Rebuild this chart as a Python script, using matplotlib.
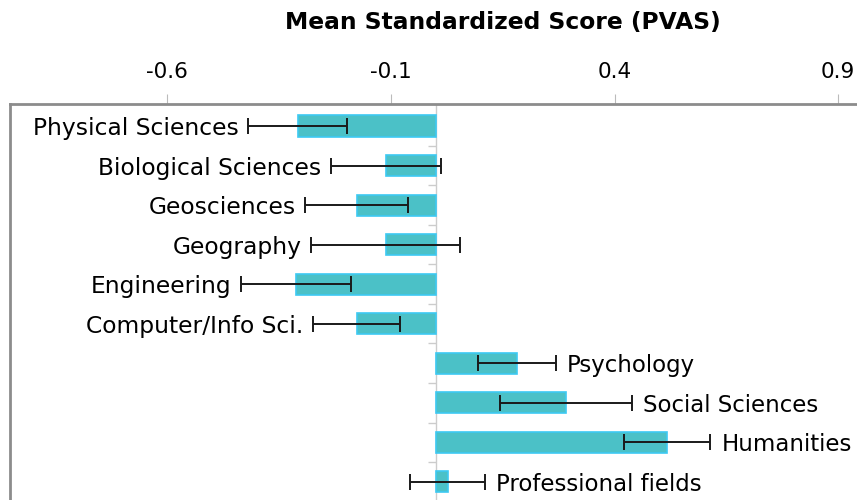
import matplotlib.pyplot as plt
import numpy as np

plt.rcParams['font.family'] = ['DejaVu Sans']

# fields, top to bottom
fields = ['Physical Sciences', 'Biological Sciences', 'Geosciences', 'Geography',
          'Engineering', 'Computer/Info Sci.', 'Psychology', 'Social Sciences',
          'Humanities', 'Professional fields']
means = [-0.309, -0.112, -0.177, -0.112, -0.313, -0.177, 0.181, 0.291, 0.517, 0.027]
errors = [0.110, 0.123, 0.115, 0.166, 0.123, 0.098, 0.087, 0.147, 0.097, 0.084]
xticks = [-0.6, -0.1, 0.4, 0.9]

fig = plt.figure(figsize=(8.57, 5), dpi=100)
ax = fig.add_axes([10 / 857, 0, 1 - 10 / 857, 1 - 104 / 500])

y = np.arange(len(fields))
ax.barh(y, means, height=0.54, color='#4bc1c7', edgecolor='#3dc9f2', linewidth=1.2, zorder=2)
ax.errorbar(means, y, xerr=errors, fmt='none', ecolor='#1a1a1a', elinewidth=1.4,
            capsize=5.5, capthick=1.4, zorder=3)

# labels next to the error bars
for yi, m, e, name in zip(y, means, errors, fields):
    if m < 0:
        ax.annotate(name, (m - e, yi + 0.06), xytext=(-7, 0), textcoords='offset points',
                    ha='right', va='center', fontsize=16.8)
    else:
        ax.annotate(name, (m + e, yi + 0.06), xytext=(8, 0), textcoords='offset points',
                    ha='left', va='center', fontsize=16.5)

# zero line with category ticks
ax.axvline(0, color='#cccccc', linewidth=1, zorder=1)
ax.hlines(y[:-1] + 0.5, -0.018, 0, color='#cccccc', linewidth=1, zorder=1)

ax.set_xlim(-0.952, 0.942)
ax.set_ylim(9.46, -0.56)
ax.xaxis.tick_top()
ax.set_xticks(xticks)
ax.set_xticklabels(['-0.6', '-0.1', '0.4', '0.9'], fontsize=15.5)
ax.tick_params(axis='x', direction='out', length=7, width=0.8, color='#bbbbbb', pad=9)
ax.set_yticks([])
for s in ['right', 'bottom']:
    ax.spines[s].set_visible(False)
for s in ['top', 'left']:
    ax.spines[s].set_color('#8c8c8c')
    ax.spines[s].set_linewidth(2)

fig.text(503 / 857, 1 - 22 / 500, 'Mean Standardized Score (PVAS)', ha='center', va='center',
         fontsize=16.8, fontweight='bold')

plt.savefig('out.png', dpi=100)
